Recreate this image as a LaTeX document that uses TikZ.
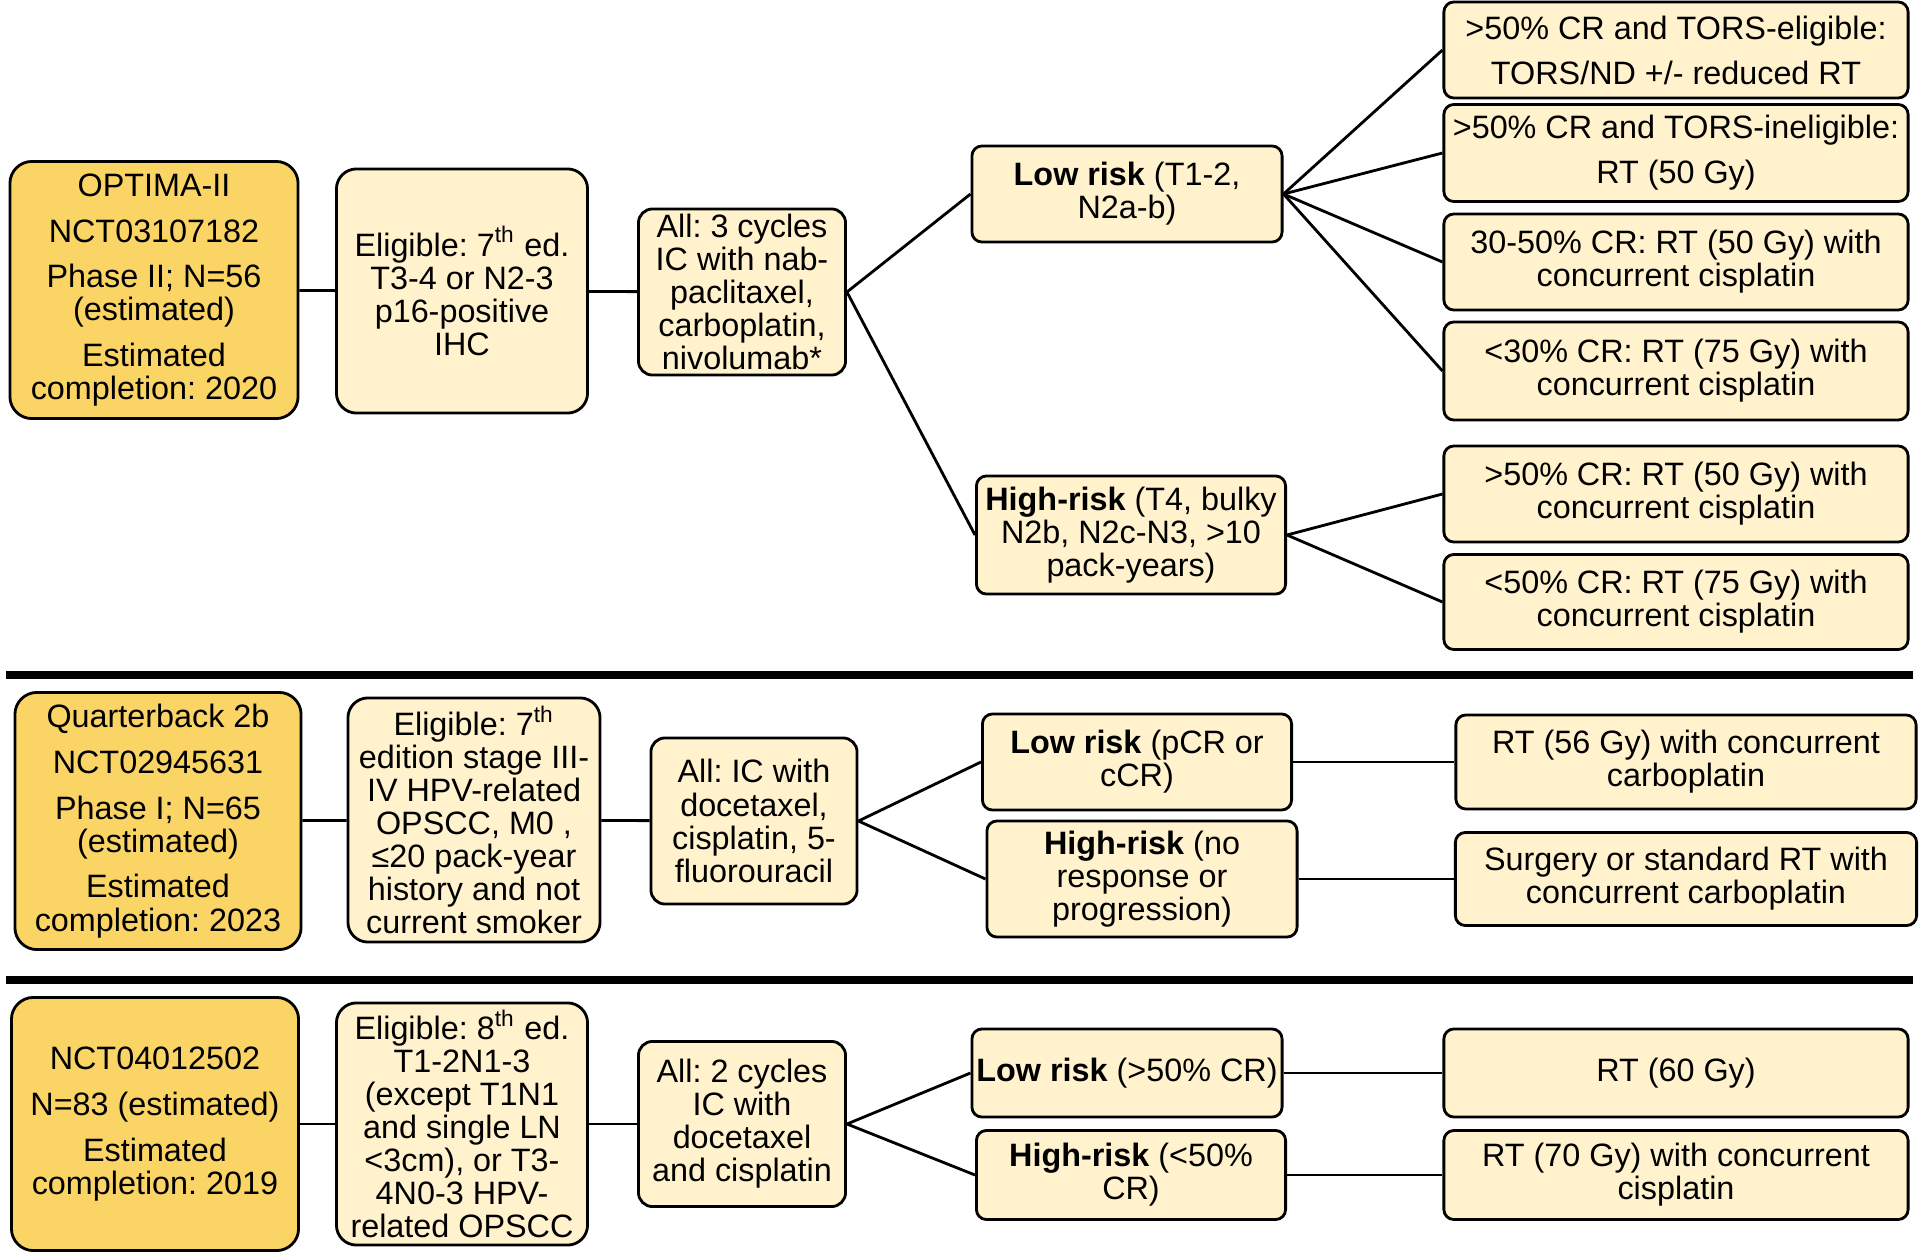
\documentclass[tikz,border=0pt]{standalone}
\usepackage{fontspec}
\setmainfont{Liberation Sans}
\frenchspacing
\definecolor{trialgold}{RGB}{250,212,100}
\definecolor{stagecream}{RGB}{255,242,204}

\begin{document}
\begin{tikzpicture}[x=0.01cm, y=-0.01cm,
   every node/.style={font=\fontsize{9.2}{9.4}\selectfont, align=center, inner sep=1pt},
   stagebox/.style={draw=black, line width=0.8pt, fill=stagecream, rounded corners=0.1cm},
   trialbox/.style={stagebox, fill=trialgold, rounded corners=0.22cm},
   eligbox/.style={stagebox, rounded corners=0.2cm, minimum width=2.51cm, minimum height=2.44cm},
   icbox/.style={stagebox, rounded corners=0.14cm, minimum width=2.07cm, minimum height=1.66cm},
   outbox/.style={stagebox, minimum width=4.64cm},
   link/.style={line width=0.8pt},
   divider/.style={line width=2.4pt}]
   \useasboundingbox (0,0) rectangle (1920,1254);

   % OPTIMA-II
   \node[trialbox, minimum width=2.88cm, minimum height=2.57cm] (opt) at (154,290) {OPTIMA-II\\[3.6pt] NCT03107182\\[3.6pt] Phase II; N=56\\ (estimated)\\[3.6pt] Estimated\\ completion: 2020};
   \node[eligbox] (elig1) at (462,291) {Eligible: 7\textsuperscript{th} ed.\\ T3-4 or N2-3\\ p16-positive\\ IHC};
   \node[icbox] (ic1) at (742,292) {All: 3 cycles\\ IC with nab-\\ paclitaxel,\\ carboplatin,\\ nivolumab*};
   \node[stagebox, minimum width=3.10cm, minimum height=0.96cm] (low1) at (1127,194) {\textbf{Low risk} (T1-2,\\ N2a-b)};
   \node[stagebox, minimum width=3.09cm, minimum height=1.18cm] (high1) at (1131,535) {\textbf{High-risk} (T4, bulky\\ N2b, N2c-N3, >10\\ pack-years)};
   \node[outbox, minimum height=0.96cm] (out1) at (1676,50) {>50\% CR and TORS-eligible:\\[3.4pt] TORS/ND +/- reduced RT};
   \node[outbox, minimum height=0.97cm] (out2) at (1676,153) {>50\% CR and TORS-ineligible:\\[3.4pt] RT (50 Gy)};
   \node[outbox, minimum height=0.96cm] (out3) at (1676,262) {30-50\% CR: RT (50 Gy) with\\ concurrent cisplatin};
   \node[outbox, minimum height=0.98cm] (out4) at (1676,371) {<30\% CR: RT (75 Gy) with\\ concurrent cisplatin};
   \node[outbox, minimum height=0.96cm] (out5) at (1676,494) {>50\% CR: RT (50 Gy) with\\ concurrent cisplatin};
   \node[outbox, minimum height=0.95cm] (out6) at (1676,602) {<50\% CR: RT (75 Gy) with\\ concurrent cisplatin};

   \draw[link] (opt) -- (elig1);
   \draw[link] (elig1) -- (ic1);
   \draw[link] (ic1.east) -- (low1.west);
   \draw[link] (ic1.east) -- (high1.west);
   \draw[link] (low1.east) -- (out1.west);
   \draw[link] (low1.east) -- (out2.west);
   \draw[link] (low1.east) -- (out3.west);
   \draw[link] (low1.east) -- (out4.west);
   \draw[link] (high1.east) -- (out5.west);
   \draw[link] (high1.east) -- (out6.west);

   \draw[divider] (6,675) -- (1913,675);

   % Quarterback 2b
   \node[trialbox, minimum width=2.86cm, minimum height=2.57cm] (qb) at (158,821) {Quarterback 2b\\[3.6pt] NCT02945631\\[3.6pt] Phase I; N=65\\ (estimated)\\[3.6pt] Estimated\\ completion: 2023};
   \node[eligbox, minimum width=2.52cm] (elig2) at (474,820) {Eligible: 7\textsuperscript{th}\\ edition stage III-\\ IV HPV-related\\ OPSCC, M0 ,\\ ≤20 pack-year\\ history and not\\ current smoker};
   \node[icbox, minimum width=2.06cm] (ic2) at (754,821) {All: IC with\\ docetaxel,\\ cisplatin, 5-\\ fluorouracil};
   \node[stagebox, minimum width=3.09cm, minimum height=0.96cm] (low2) at (1137,762) {\textbf{Low risk} (pCR or\\ cCR)};
   \node[stagebox, minimum width=3.10cm, minimum height=1.16cm] (high2) at (1142,879) {\textbf{High-risk} (no\\ response or\\ progression)};
   \node[outbox, minimum width=4.60cm, minimum height=0.94cm] (out7) at (1686,762) {RT (56 Gy) with concurrent\\ carboplatin};
   \node[outbox, minimum width=4.61cm, minimum height=0.93cm] (out8) at (1686,879) {Surgery or standard RT with\\ concurrent carboplatin};

   \draw[link] (qb) -- (elig2);
   \draw[link] (elig2) -- (ic2);
   \draw[link] (ic2.east) -- (low2.west);
   \draw[link] (ic2.east) -- (high2.west);
   \draw[link] (low2) -- (out7);
   \draw[link] (high2) -- (out8);

   \draw[divider] (6,980) -- (1913,980);

   % NCT04012502
   \node[trialbox, minimum width=2.87cm, minimum height=2.53cm] (nct) at (155,1124) {NCT04012502\\[3.6pt] N=83 (estimated)\\[3.6pt] Estimated\\ completion: 2019};
   \node[eligbox, minimum height=2.42cm] (elig3) at (462,1124) {Eligible: 8\textsuperscript{th} ed.\\ T1-2N1-3\\ (except T1N1\\ and single LN\\ <3cm), or T3-\\ 4N0-3 HPV-\\ related OPSCC};
   \node[icbox, minimum height=1.65cm] (ic3) at (742,1124) {All: 2 cycles\\ IC with\\ docetaxel\\ and cisplatin};
   \node[stagebox, minimum width=3.10cm, minimum height=0.88cm] (low3) at (1127,1073) {\textbf{Low risk} (>50\% CR)};
   \node[stagebox, minimum width=3.09cm, minimum height=0.89cm] (high3) at (1131,1175) {\textbf{High-risk} (<50\%\\ CR)};
   \node[outbox, minimum height=0.88cm] (out9) at (1676,1073) {RT (60 Gy)};
   \node[outbox, minimum height=0.89cm] (out10) at (1676,1175) {RT (70 Gy) with concurrent\\ cisplatin};

   \draw[link] (nct) -- (elig3);
   \draw[link] (elig3) -- (ic3);
   \draw[link] (ic3.east) -- (low3.west);
   \draw[link] (ic3.east) -- (high3.west);
   \draw[link] (low3) -- (out9);
   \draw[link] (high3) -- (out10);

\end{tikzpicture}
\end{document}
